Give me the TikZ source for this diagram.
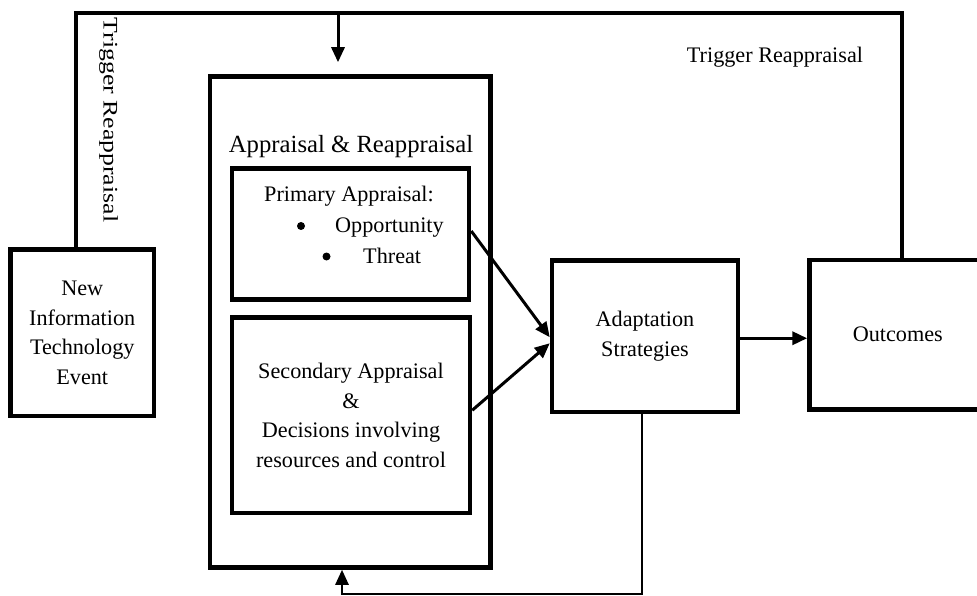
\documentclass[tikz,border=0pt]{standalone}
\usepackage{fontspec}
\usepackage{graphicx}
\setmainfont{Liberation Serif}
\usetikzlibrary{arrows.meta}
\begin{document}
\begin{tikzpicture}[x=1pt,y=-1pt,
  box/.style={draw,line width=4.5pt,inner sep=0pt,align=center,font=\fontsize{22.2}{29.5}\selectfont},
  txt/.style={inner sep=0pt,anchor=base,font=\fontsize{22.2}{29.5}\selectfont},
  conn/.style={line width=3.8pt},
  arr/.style={line width=3pt,-{Triangle[length=15pt,width=13pt]}},
  thinline/.style={line width=2.5pt},
  dot/.style={circle,fill,inner sep=0pt,minimum size=8pt}]
\useasboundingbox[fill=white] (0,0) rectangle (977,596);

% boxes
\node[box,minimum width=143.5pt,minimum height=166.5pt] (evt) at (82.25,332.75) {New\\Information\\Technology\\Event};
\node[box,minimum width=280.5pt,minimum height=491pt] (big) at (350.25,322) {};
\node[box,minimum width=237pt,minimum height=131pt] (prim) at (350.5,234) {};
\node[box,minimum width=238pt,minimum height=195.5pt] (sec) at (351,415.25) {Secondary Appraisal\\\&\\Decisions involving\\resources and control};
\node[box,minimum width=186pt,minimum height=151.5pt] (adapt) at (645,336.25) {Adaptation\\Strategies};
\node[box,minimum width=176.5pt,minimum height=149.5pt] (out) at (897.75,334.75) {Outcomes};

% texts
\node[txt,font=\fontsize{24.7}{30}\selectfont] (head) at (351,153) {Appraisal \& Reappraisal};
\node[txt] (ptitle) at (349,202) {Primary Appraisal:};
\node[txt,anchor=base west] (opp) at (335,233) {Opportunity};
\node[txt,anchor=base west] (thr) at (363,263) {Threat};
\node[dot] (b1) at (301,226) {};
\node[dot] (b2) at (326.5,256.5) {};
\node[txt,font=\fontsize{22.2}{27}\selectfont] (trig2) at (775,63) {Trigger Reappraisal};
\node[rotate=-90,inner sep=0pt,font=\fontsize{23}{27}\selectfont] (trig1) at (108.5,120) {\scalebox{1.12}[0.9]{Trigger Reappraisal}};

% top feedback loop
\coordinate (tl) at (76,13);
\coordinate (tr) at (902,13);
\coordinate (ta) at (338,13);
\draw[conn] (tl |- evt.north) -- (tl) -- (tr) -- (tr |- out.north);
\draw[arr,shorten >=12pt] (ta) -- (ta |- big.north);

% arrows to adaptation
\draw[arr] ([yshift=3pt]prim.east) -- ([yshift=-1pt]adapt.west);
\draw[arr] ([yshift=5pt]sec.east) -- ([yshift=-7pt]adapt.west);
\draw[arr,line width=3.5pt] ([yshift=-2pt]adapt.east) -- ([yshift=-2pt]adapt.east -| out.west);

% bottom loop
\coordinate (bl) at (642,594);
\coordinate (br) at (342,594);
\draw[thinline,-{Triangle[length=15pt,width=13pt]}] (bl |- adapt.south) -- (bl) -- (br) -- (br |- big.south);
\end{tikzpicture}
\end{document}
